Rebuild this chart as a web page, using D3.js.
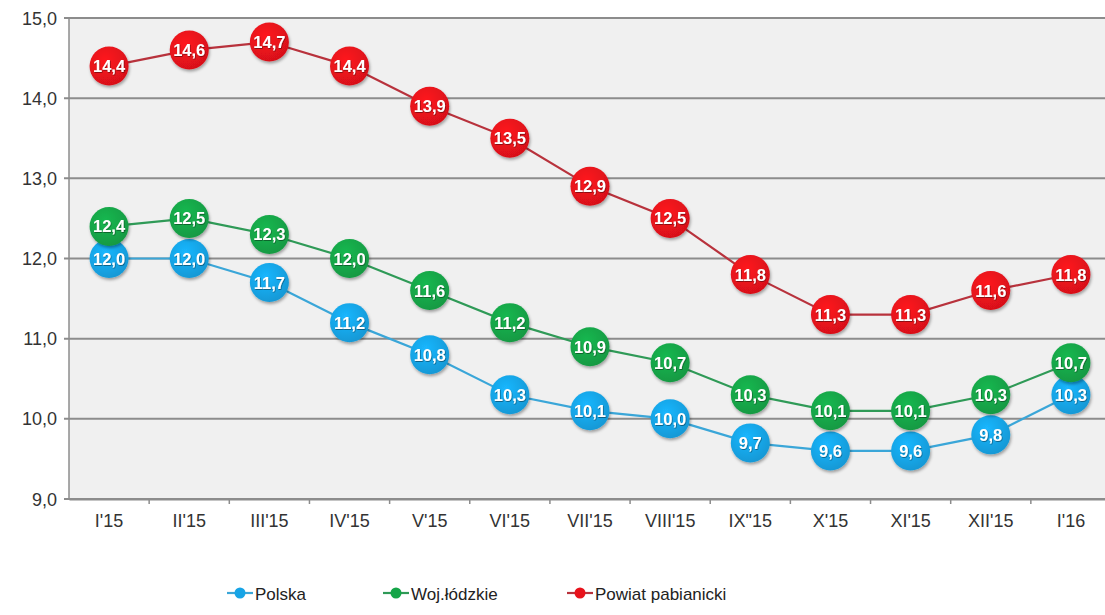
<!DOCTYPE html>
<html>
<head>
<meta charset="utf-8">
<script src="https://cdn.jsdelivr.net/npm/d3@7"></script>
<style>
  body { margin: 0; background: #fff; }
  svg { display: block; font-family: "Liberation Sans", Arial, sans-serif; }
</style>
</head>
<body>
<svg width="1105" height="615"></svg>
<script>
const months = ["I'15", "II'15", "III'15", "IV'15", "V'15", "VI'15", "VII'15", "VIII'15", "IX\"15", "X'15", "XI'15", "XII'15", "I'16"];
const polska = [12.0, 12.0, 11.7, 11.2, 10.8, 10.3, 10.1, 10.0, 9.7, 9.6, 9.6, 9.8, 10.3];
const lodzkie = [12.4, 12.5, 12.3, 12.0, 11.6, 11.2, 10.9, 10.7, 10.3, 10.1, 10.1, 10.3, 10.7];
const pabianicki = [14.4, 14.6, 14.7, 14.4, 13.9, 13.5, 12.9, 12.5, 11.8, 11.3, 11.3, 11.6, 11.8];
const yTicks = [9, 10, 11, 12, 13, 14, 15];

const series = [
  {name: "Polska", values: polska, fill: "#17a4e6", line: "#3aa6d8"},
  {name: "Woj.łódzkie", values: lodzkie, fill: "#15a548", line: "#2f9a57"},
  {name: "Powiat pabianicki", values: pabianicki, fill: "#e8121b", line: "#b8323c"}
];

const svg = d3.select("svg");
const plotLeft = 69, plotRight = 1111, plotTop = 18, plotBottom = 499;

const x = d3.scaleBand().domain(months).range([plotLeft, plotRight]);
const y = d3.scaleLinear().domain([9, 15]).range([plotBottom, plotTop]);
const fmt = v => v.toFixed(1).replace(".", ",");

// cienie
const defs = svg.append("defs");
const sh = defs.append("filter").attr("id", "shadow")
  .attr("x", "-40%").attr("y", "-40%").attr("width", "180%").attr("height", "180%");
sh.append("feDropShadow").attr("dx", 1).attr("dy", 2).attr("stdDeviation", 1.8)
  .attr("flood-color", "#000").attr("flood-opacity", 0.35);
const tsh = defs.append("filter").attr("id", "tshadow");
tsh.append("feDropShadow").attr("dx", 0.6).attr("dy", 0.8).attr("stdDeviation", 0.5)
  .attr("flood-color", "#000").attr("flood-opacity", 0.5);

series.forEach((s, i) => {
  const g = defs.append("radialGradient").attr("id", "grad" + i)
    .attr("cx", "40%").attr("cy", "35%").attr("r", "65%");
  g.append("stop").attr("offset", "0%").attr("stop-color", d3.color(s.fill).brighter(0.3));
  g.append("stop").attr("offset", "100%").attr("stop-color", d3.color(s.fill).darker(0.2));
});

// tło
svg.append("rect")
  .attr("x", plotLeft).attr("y", plotTop)
  .attr("width", plotRight - plotLeft).attr("height", plotBottom - plotTop)
  .attr("fill", "#f0f0f0");

// siatka
svg.selectAll(".grid")
  .data(yTicks)
  .enter()
  .append("line")
  .attr("x1", plotLeft - 5).attr("x2", plotRight)
  .attr("y1", d => y(d)).attr("y2", d => y(d))
  .attr("stroke", "#8c8c8c")
  .attr("stroke-width", 2);

// oś Y
svg.append("line")
  .attr("x1", plotLeft).attr("x2", plotLeft)
  .attr("y1", plotTop).attr("y2", plotBottom)
  .attr("stroke", "#8c8c8c").attr("stroke-width", 1.5);

svg.selectAll(".ylab")
  .data(yTicks)
  .enter()
  .append("text")
  .attr("x", 57)
  .attr("y", d => y(d) + 6.5)
  .attr("text-anchor", "end")
  .attr("font-size", 18)
  .attr("fill", "#333")
  .text(d => fmt(d));

// oś X
const xAxis = svg.append("g")
  .attr("transform", `translate(0,${plotBottom})`)
  .call(d3.axisBottom(x).tickSize(0).tickSizeOuter(0));
xAxis.select(".domain").attr("stroke", "#8c8c8c").attr("stroke-width", 2);
xAxis.selectAll("text")
  .attr("font-size", 18)
  .attr("font-family", "Liberation Sans, Arial, sans-serif")
  .attr("fill", "#333")
  .attr("dy", "1.4em");

svg.selectAll(".xtick")
  .data(months.slice(1))
  .enter()
  .append("line")
  .attr("x1", d => x(d)).attr("x2", d => x(d))
  .attr("y1", plotBottom).attr("y2", plotBottom + 5)
  .attr("stroke", "#8c8c8c").attr("stroke-width", 1.5);

// linie i punkty
const line = d3.line()
  .x((d, i) => x(months[i]) + x.bandwidth() / 2)
  .y(d => y(d));

series.forEach(s => {
  svg.append("path")
    .datum(s.values)
    .attr("fill", "none")
    .attr("stroke", s.line)
    .attr("stroke-width", 2.2)
    .attr("d", line);
});

series.forEach((s, si) => {
  const grp = svg.append("g");
  const pts = grp.selectAll("g")
    .data(s.values)
    .enter()
    .append("g")
    .attr("transform", (d, i) => `translate(${x(months[i]) + x.bandwidth() / 2},${y(d)})`);
  pts.append("circle")
    .attr("r", 19.5)
    .attr("fill", `url(#grad${si})`)
    .attr("filter", "url(#shadow)");
  pts.append("text")
    .attr("text-anchor", "middle")
    .attr("dy", 6)
    .attr("font-size", 16.5)
    .attr("font-weight", "bold")
    .attr("fill", "#fff")
    .attr("filter", "url(#tshadow)")
    .text(d => fmt(d));
});

// legenda
const legendX = [240, 396, 580];
const legend = svg.selectAll(".legend")
  .data(series)
  .enter()
  .append("g")
  .attr("transform", (d, i) => `translate(${legendX[i]},593)`);
legend.append("line")
  .attr("x1", -13).attr("x2", 13)
  .attr("stroke", d => d.line).attr("stroke-width", 2.2);
legend.append("circle")
  .attr("r", 5.5)
  .attr("fill", d => d.fill);
legend.append("text")
  .attr("x", 15)
  .attr("y", 6.5)
  .attr("font-size", 17)
  .attr("font-family", "'Liberation Sans Narrow', 'Liberation Sans', Arial, sans-serif")
  .attr("fill", "#222")
  .text(d => d.name);
</script>
</body>
</html>
